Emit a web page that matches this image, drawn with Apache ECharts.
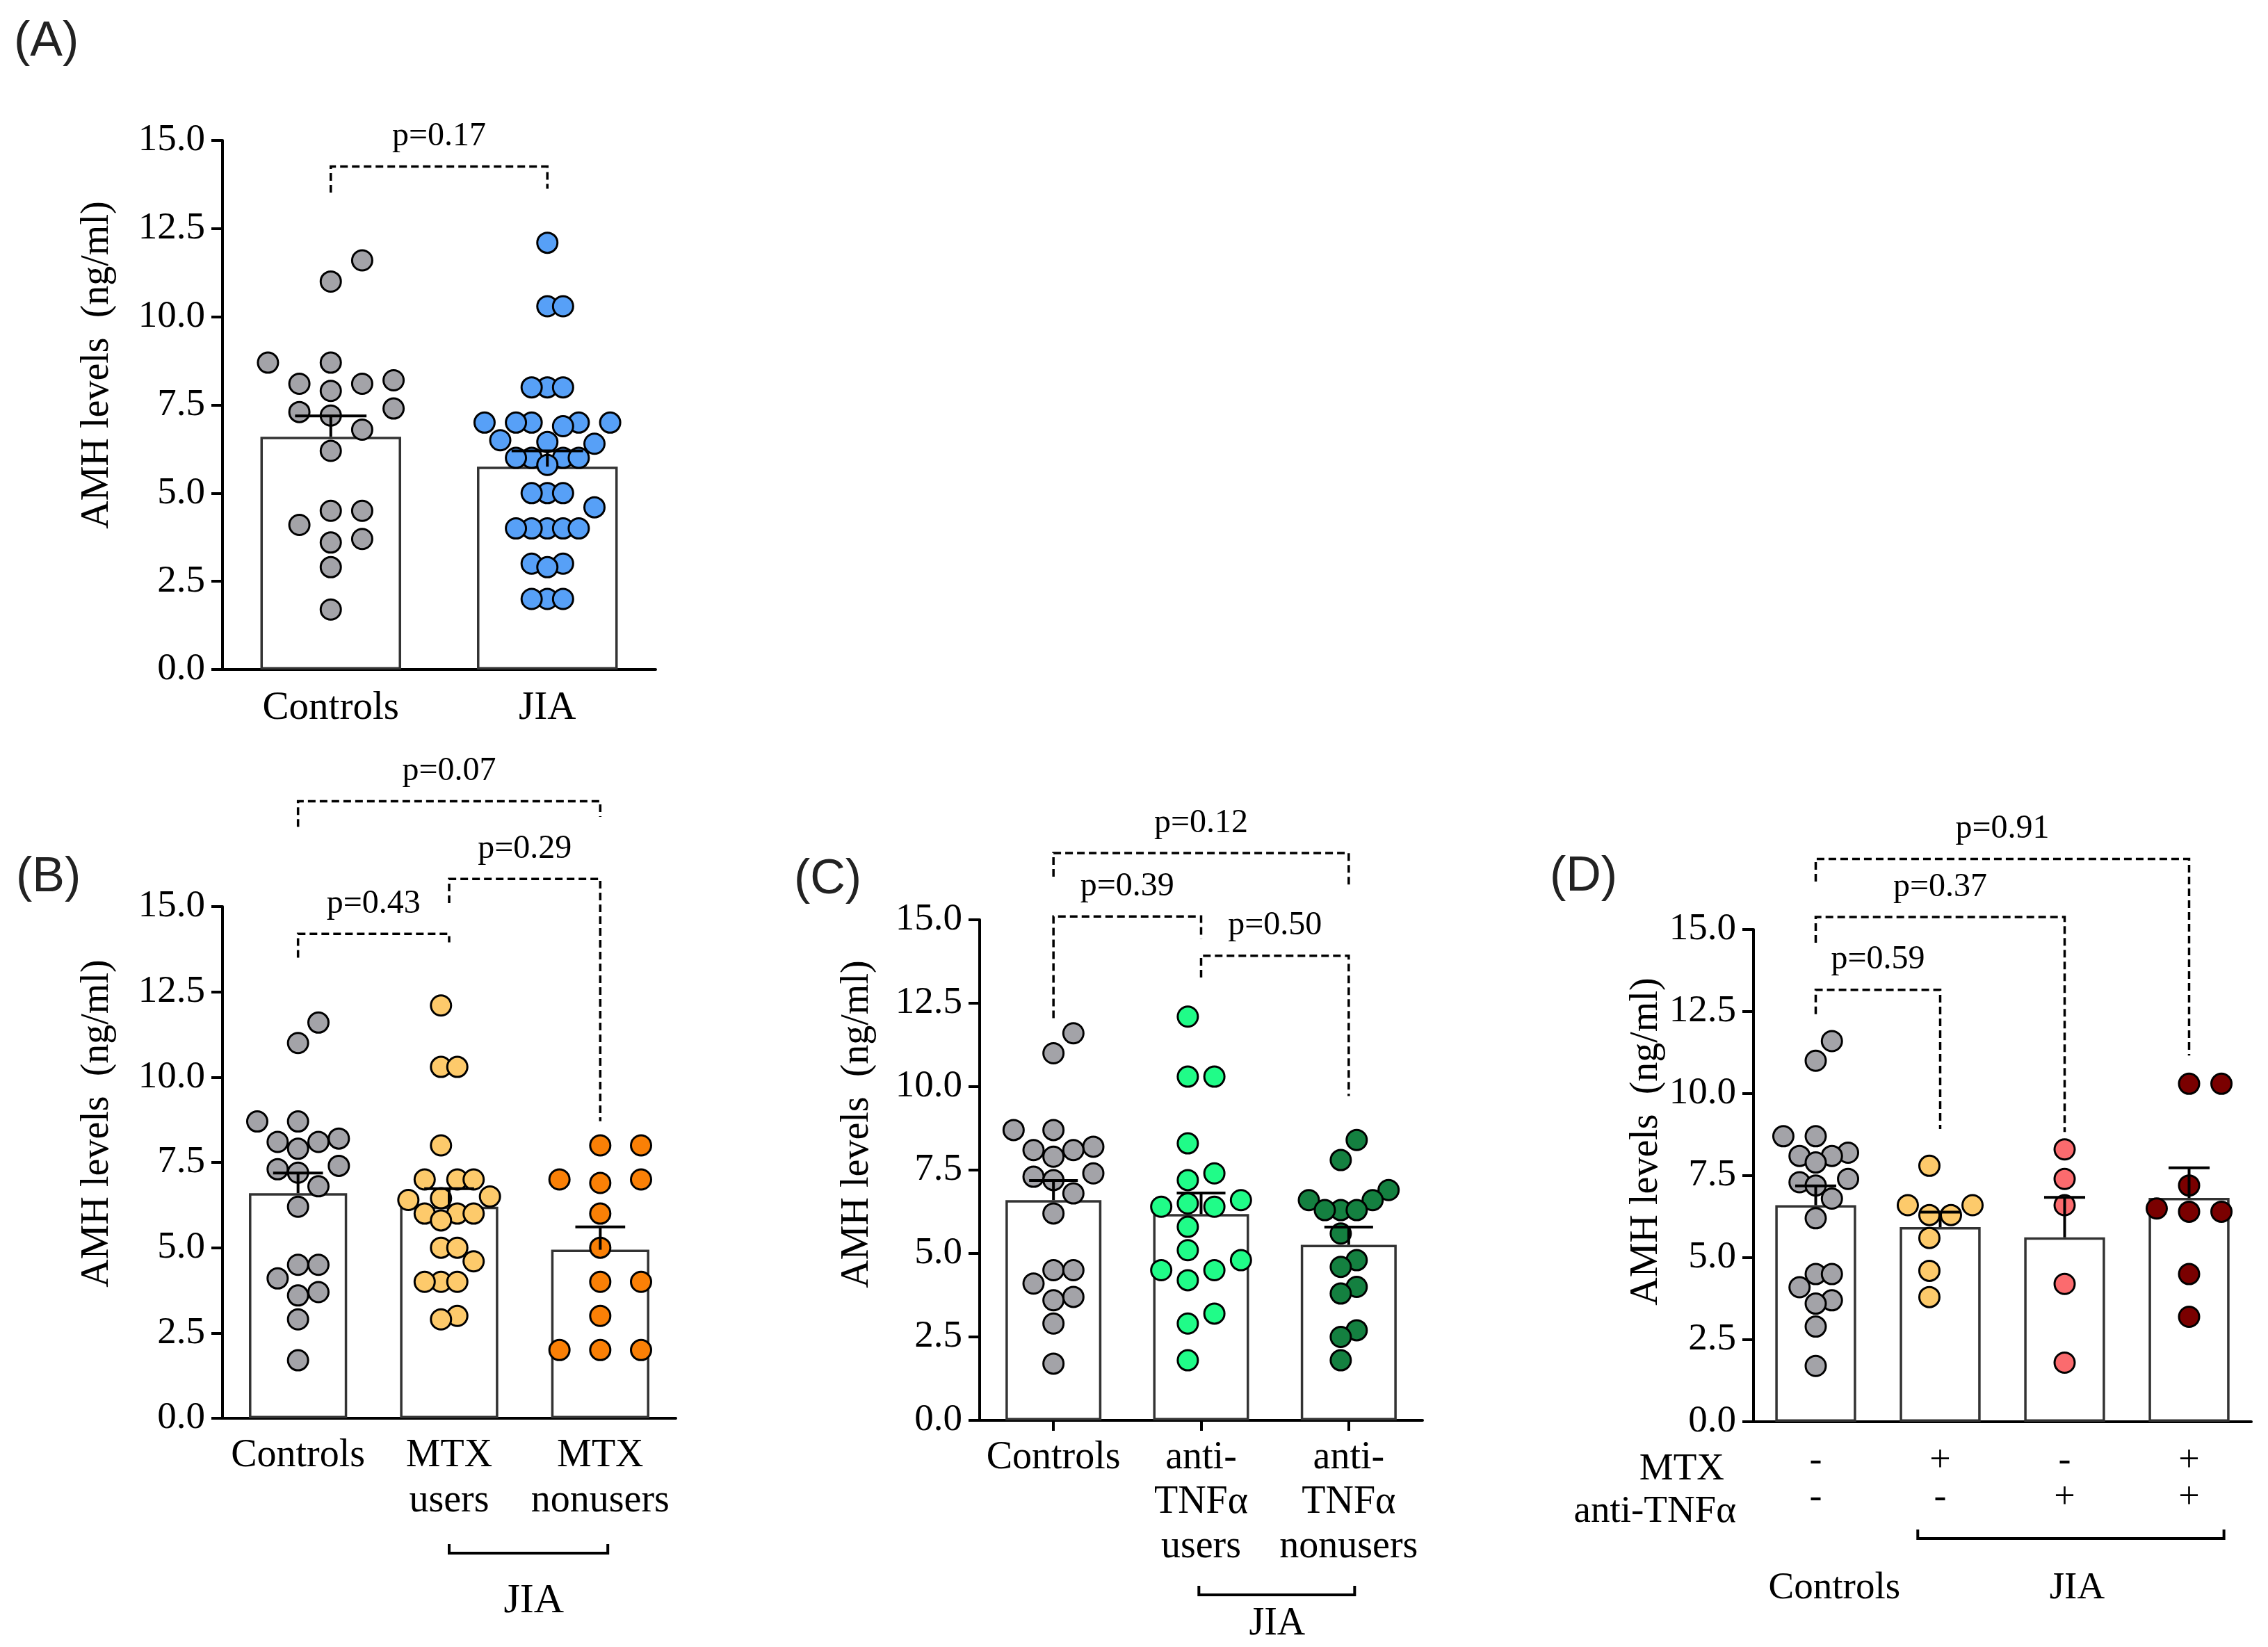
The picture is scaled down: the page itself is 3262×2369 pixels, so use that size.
<!DOCTYPE html>
<html>
<head>
<meta charset="utf-8">
<title>AMH levels</title>
<script src="https://cdn.jsdelivr.net/npm/echarts@6/dist/echarts.min.js"></script>
<style>
  html, body { margin: 0; padding: 0; background: #fff; }
  #chart { width: 3262px; height: 2369px; }
</style>
</head>
<body>
<div id="chart"></div>
<script>
// ---- values (AMH, ng/ml) ----
var ctrlVals = [11.6, 11.0, 8.7, 8.7, 8.2, 8.1, 8.1, 7.9, 7.4, 7.3, 7.2, 6.8, 6.2, 4.5, 4.5, 4.1, 3.7, 3.6, 2.9, 1.7];
var jiaVals = [12.1, 10.3, 10.3, 8.0, 8.0, 8.0, 7.0, 7.0, 7.0, 7.0, 7.0, 6.9, 6.5, 6.45, 6.4, 6.0, 6.0, 6.0, 6.0, 5.8,
               5.0, 5.0, 5.0, 4.6, 4.0, 4.0, 4.0, 4.0, 4.0, 3.0, 3.0, 2.9, 2.0, 2.0, 2.0];
var mtxUsers = [12.1, 10.3, 10.3, 8.0, 7.0, 7.0, 7.0, 6.5, 6.45, 6.4, 6.0, 6.0, 6.0, 5.8, 5.0, 5.0, 4.6, 4.0, 4.0, 4.0, 3.0, 2.9];
var mtxNonusers = [8.0, 8.0, 7.0, 7.0, 6.9, 6.0, 5.0, 4.0, 4.0, 3.0, 2.0, 2.0, 2.0];
var tnfUsers = [12.1, 10.3, 10.3, 8.3, 7.4, 7.2, 6.6, 6.5, 6.4, 6.4, 5.8, 5.1, 4.8, 4.5, 4.5, 4.2, 3.2, 2.9, 1.8];
var tnfNonusers = [8.4, 7.8, 6.9, 6.6, 6.6, 6.3, 6.3, 6.3, 5.6, 4.8, 4.6, 4.0, 3.8, 2.7, 2.5, 1.8];
var dMtxOnly = [7.8, 6.6, 6.6, 6.3, 6.3, 5.6, 4.6, 3.8];
var dTnfOnly = [8.3, 7.4, 6.6, 4.2, 1.8];
var dBoth = [10.3, 10.3, 7.2, 6.5, 6.4, 6.4, 4.5, 3.2];

// bar heights (mean) and error bars (SEM)
var meanA = [6.6, 5.75],             semA = [0.59, 0.45];
var meanB = [6.6, 6.2, 4.94],        semB = [0.59, 0.53, 0.67];
var meanC = [6.6, 6.18, 5.26],       semC = [0.59, 0.63, 0.53];
var meanD = [6.6, 5.93, 5.62, 6.82], semD = [0.59, 0.46, 1.22, 0.92];

// categories
var catsA = ['Controls', 'JIA'];
var catsB = ['Controls', 'MTX\nusers', 'MTX\nnonusers'];
var catsC = ['Controls', 'anti-\nTNF\u03b1\nusers', 'anti-\nTNF\u03b1\nnonusers'];
var catsD = ['-\n-', '+\n-', '-\n+', '+\n+'];

// p-values
var pA = ['p=0.17'];
var pB = ['p=0.43', 'p=0.29', 'p=0.07'];
var pC = ['p=0.39', 'p=0.50', 'p=0.12'];
var pD = ['p=0.59', 'p=0.37', 'p=0.91'];

var yMax = 15, yStep = 2.5;

// ---- layout ----
// bracket geometry: [fromCat, toCat, level, leftLegEnd, rightLegEnd] in axis units
var brA = [[0, 1, 14.26, 13.52, 13.63]];
var brB = [[0, 1, 14.2, 13.5, 13.95], [1, 2, 15.81, 15.1, 8.71], [0, 2, 18.09, 17.34, 17.63]];
var brC = [[0, 1, 15.1, 12.05, 14.42], [1, 2, 13.92, 13.27, 9.72], [0, 2, 17.0, 16.29, 16.05]];
var brD = [[0, 1, 13.16, 12.42, 8.92], [0, 2, 15.38, 14.6, 8.83], [0, 3, 17.15, 16.46, 11.16]];

var SERIF = '"Liberation Serif", "Times New Roman", serif';
var SANS = '"Liberation Sans", Arial, sans-serif';
var GRAY = '#a3a3a8', BLUE = '#57a0f7', LORANGE = '#fdca6b', ORANGE = '#fa8006',
    LGREEN = '#20fc88', DGREEN = '#148040', SALMON = '#fb6b6e', DRED = '#7a0000';
var DOT_R = 14.5, DOT_GAP = 0.62;

// simple beeswarm: each point takes the nearest free column (0, +1, -1, +2, ...)
function swarmOffsets(vals, spread) {
  var order = vals.map(function (v, i) { return i; })
    .sort(function (a, b) { return vals[a] - vals[b]; });
  var cols = [], placed = [];
  order.forEach(function (i) {
    for (var k = 0; ; k++) {
      var c = k === 0 ? 0 : (k % 2 ? (k + 1) / 2 : -k / 2);
      var hit = placed.some(function (p) { return p.c === c && Math.abs(p.v - vals[i]) < DOT_GAP - 1e-9; });
      if (!hit) { cols[i] = c; placed.push({ c: c, v: vals[i] }); break; }
    }
  });
  var lo = Math.min.apply(null, cols), hi = Math.max.apply(null, cols);
  var mid = (lo + hi) / 2, half = (hi - lo) / 2;
  var step = half > 0 ? Math.min(spread / half, spread) : 0;
  return cols.map(function (c) { return (c - mid) * step; });
}

function txt(x, y, text, size, align, family) {
  return {
    type: 'text', x: x, y: y,
    style: {
      text: text, font: size + 'px ' + (family || SERIF), fill: '#000',
      align: align || 'center', verticalAlign: 'middle',
      textAlign: align || 'center', textVerticalAlign: 'middle'
    }
  };
}

function groupBracket(api, c1, s1, c2, s2, drop) {
  var bw = api.size([1, 0])[0];
  var p1 = api.coord([c1, 0]), p2 = api.coord([c2, 0]);
  var x1 = p1[0] + s1 * bw, x2 = p2[0] + s2 * bw, y = p1[1] + drop;
  return {
    type: 'polyline',
    shape: { points: [[x1, y - 13], [x1, y], [x2, y], [x2, y - 13]] },
    style: { stroke: '#000', lineWidth: 4, fill: null }
  };
}

function catText(api, c, shift, drop, text, size, align) {
  var bw = api.size([1, 0])[0];
  var p = api.coord([c, 0]);
  return txt(p[0] + shift * bw, p[1] + drop, text, size, align);
}

var panels = [
  { rect: [320, 202, 623, 761], cats: catsA, means: meanA, sems: semA, pl: pA, br: brA,
    groups: [[ctrlVals, GRAY], [jiaVals, BLUE]], spread: 0.29, xTick: false,
    label: { size: 57, lh: 64, margin: 24 }, under: null },
  { rect: [320, 1304, 652, 736], cats: catsB, means: meanB, sems: semB, pl: pB, br: brB,
    groups: [[ctrlVals, GRAY], [mtxUsers, LORANGE], [mtxNonusers, ORANGE]], spread: 0.27, xTick: false,
    label: { size: 56, lh: 65, margin: 22 },
    under: function (api) {
      return [groupBracket(api, 1, 0, 2, 0.05, 194), catText(api, 1, 0.56, 263, 'JIA', 60)];
    } },
  { rect: [1409, 1323, 637, 720], cats: catsC, means: meanC, sems: semC, pl: pC, br: brC,
    groups: [[ctrlVals, GRAY], [tnfUsers, LGREEN], [tnfNonusers, DGREEN]], spread: 0.27, xTick: true,
    label: { size: 56, lh: 64, margin: 22 },
    under: function (api) {
      return [groupBracket(api, 1, -0.015, 2, 0.04, 251), catText(api, 1, 0.515, 293, 'JIA', 56)];
    } },
  { rect: [2522, 1337, 716, 708], cats: catsD, means: meanD, sems: semD, pl: pD, br: brD,
    groups: [[ctrlVals, GRAY], [dMtxOnly, LORANGE], [dTnfOnly, SALMON], [dBoth, DRED]], spread: 0.26, xTick: false,
    label: { size: 54, lh: 53, margin: 30 },
    under: function (api) {
      var bw = api.size([1, 0])[0];
      var p0 = api.coord([0, 0]);
      var axisX = p0[0] - bw / 2;
      return [
        txt(axisX - 42, p0[1] + 69, 'MTX', 55, 'right'),
        txt(axisX - 25, p0[1] + 130, 'anti-TNF\u03b1', 55, 'right'),
        groupBracket(api, 1, -0.18, 3, 0.28, 168),
        catText(api, 0, 0.15, 240, 'Controls', 55),
        catText(api, 1, 1.1, 240, 'JIA', 55)
      ];
    } }
];

var option = { animation: false, backgroundColor: '#fff', grid: [], xAxis: [], yAxis: [], series: [] };

panels.forEach(function (P, i) {
  option.grid.push({ left: P.rect[0], top: P.rect[1], width: P.rect[2], height: P.rect[3],
                     containLabel: false, outerBoundsMode: 'none' });
  option.xAxis.push({
    type: 'category', gridIndex: i, data: P.cats,
    axisLine: { show: true, lineStyle: { color: '#000', width: 4 } },
    axisTick: { show: P.xTick, alignWithLabel: true, length: 15, lineStyle: { color: '#000', width: 4 } },
    axisLabel: { fontFamily: SERIF, fontSize: P.label.size, color: '#000', lineHeight: P.label.lh,
                 margin: P.label.margin, interval: 0 },
    splitLine: { show: false }
  });
  option.yAxis.push({
    type: 'value', gridIndex: i, min: 0, max: yMax, interval: yStep,
    axisLine: { show: true, lineStyle: { color: '#000', width: 4 } },
    axisTick: { show: true, length: 16, lineStyle: { color: '#000', width: 4 } },
    axisLabel: { fontFamily: SERIF, fontSize: 55, color: '#000', margin: 25,
                 formatter: function (v) { return v.toFixed(1); } },
    splitLine: { show: false }
  });

  // bars
  option.series.push({
    type: 'bar', xAxisIndex: i, yAxisIndex: i, data: P.means, barWidth: '65%', z: 1, silent: true,
    itemStyle: { color: '#fff', borderColor: '#333', borderWidth: 3.5 }
  });

  // dots
  P.groups.forEach(function (g, k) {
    var offs = swarmOffsets(g[0], P.spread);
    var color = g[1];
    option.series.push({
      type: 'custom', xAxisIndex: i, yAxisIndex: i, z: 2, silent: true,
      dimensions: ['x', 'y', 'off'], encode: { x: 0, y: 1 },
      data: g[0].map(function (v, j) { return [k, v, offs[j]]; }),
      renderItem: function (params, api) {
        var p = api.coord([api.value(0), api.value(1)]);
        var bw = api.size([1, 0])[0];
        return {
          type: 'circle',
          shape: { cx: p[0] + api.value(2) * bw, cy: p[1], r: DOT_R },
          style: { fill: color, stroke: '#000', lineWidth: 3 }
        };
      }
    });
  });

  // SEM error bars (upper only)
  option.series.push({
    type: 'custom', xAxisIndex: i, yAxisIndex: i, z: 3, silent: true,
    dimensions: ['x', 'y', 'top'], encode: { x: 0, y: [1, 2] },
    data: P.means.map(function (m, k) { return [k, m, m + P.sems[k]]; }),
    renderItem: function (params, api) {
      var p0 = api.coord([api.value(0), api.value(1)]);
      var p1 = api.coord([api.value(0), api.value(2)]);
      var w = api.size([1, 0])[0] * 0.33 / 2;
      var st = { stroke: '#000', lineWidth: 4 };
      return { type: 'group', children: [
        { type: 'line', shape: { x1: p0[0], y1: p0[1], x2: p1[0], y2: p1[1] }, style: st },
        { type: 'line', shape: { x1: p1[0] - w, y1: p1[1], x2: p1[0] + w, y2: p1[1] }, style: st }
      ] };
    }
  });

  // comparison brackets with p-values
  var labels = P.pl;
  option.series.push({
    type: 'custom', xAxisIndex: i, yAxisIndex: i, z: 3, silent: true, clip: false,
    dimensions: ['from', 'to', 'level', 'l', 'r'], encode: { x: [0, 1], y: 2 },
    data: P.br,
    renderItem: function (params, api) {
      var a = api.coord([api.value(0), api.value(2)]);
      var b = api.coord([api.value(1), api.value(2)]);
      var la = api.coord([api.value(0), api.value(3)]);
      var rb = api.coord([api.value(1), api.value(4)]);
      return { type: 'group', children: [
        { type: 'polyline',
          shape: { points: [[a[0], la[1]], [a[0], a[1]], [b[0], b[1]], [b[0], rb[1]]] },
          style: { stroke: '#000', lineWidth: 3.5, lineDash: [11, 6], fill: null } },
        txt((a[0] + b[0]) / 2, a[1] - 43, labels[params.dataIndex], 48)
      ] };
    }
  });

  // group annotations under the axis
  if (P.under) {
    var under = P.under;
    option.series.push({
      type: 'custom', xAxisIndex: i, yAxisIndex: i, z: 3, silent: true, clip: false,
      data: [[0, 0]],
      renderItem: function (params, api) {
        return { type: 'group', children: under(api) };
      }
    });
  }
});

// panel letters and y-axis titles
function yTitle(x, y) {
  return {
    type: 'text', x: x, y: y, rotation: Math.PI / 2,
    style: { text: 'AMH levels  (ng/ml)', font: '56px ' + SERIF, fill: '#000',
             align: 'center', verticalAlign: 'middle', textAlign: 'center', textVerticalAlign: 'middle' }
  };
}
function letter(x, y, t) {
  return {
    type: 'text', x: x, y: y,
    style: { text: t, font: '70px ' + SANS, fill: '#222',
             align: 'left', verticalAlign: 'middle', textAlign: 'left', textVerticalAlign: 'middle' }
  };
}
option.graphic = [
  letter(20, 61, '(A)'), letter(23, 1263, '(B)'), letter(1142, 1266, '(C)'), letter(2229, 1262, '(D)'),
  yTitle(140, 525), yTitle(140, 1616), yTitle(1233, 1617), yTitle(2368, 1642)
];

var myChart = echarts.init(document.getElementById('chart'));
myChart.setOption(option);
</script>
</body>
</html>
